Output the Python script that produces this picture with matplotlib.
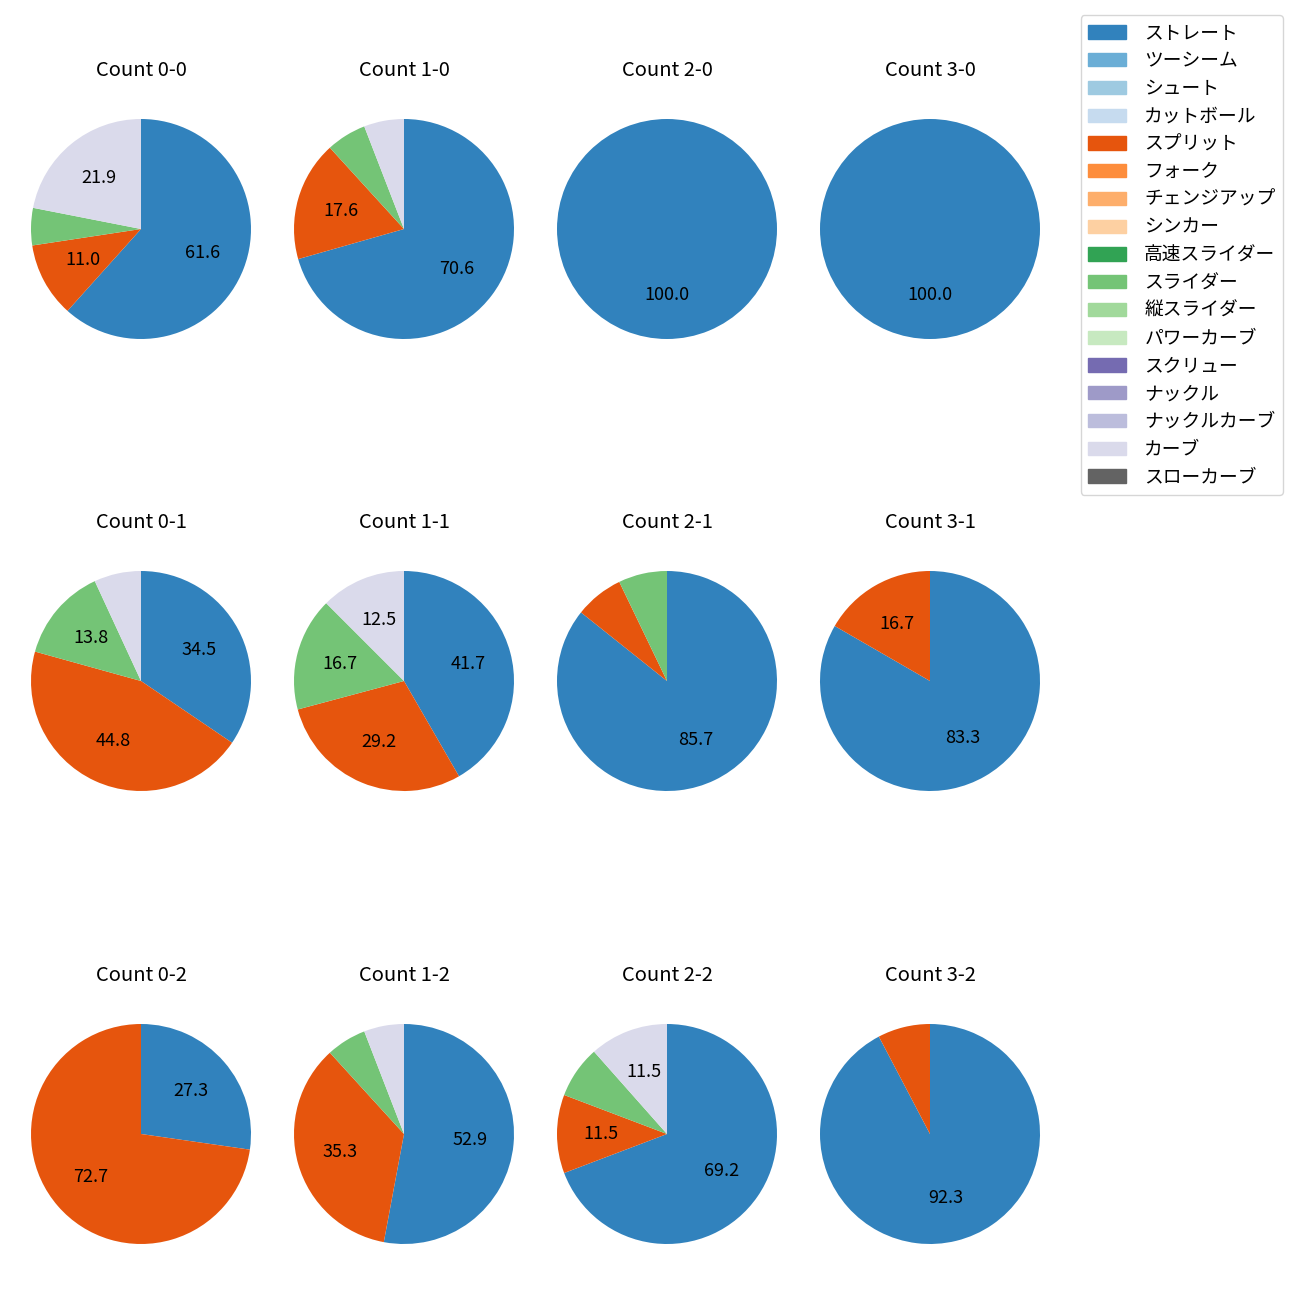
import matplotlib
matplotlib.use("Agg")
import matplotlib.pyplot as plt
import numpy as np

plt.rcParams['font.family'] = ['Noto Sans CJK JP', 'DejaVu Sans']

pitch_types = ["ストレート", "ツーシーム", "シュート", "カットボール", "スプリット", "フォーク",
               "チェンジアップ", "シンカー", "高速スライダー", "スライダー", "縦スライダー",
               "パワーカーブ", "スクリュー", "ナックル", "ナックルカーブ", "カーブ", "スローカーブ"]

# pitch counts per ball-strike count: straight, split, slider, curve
counts = ["0-0", "1-0", "2-0", "3-0", "0-1", "1-1", "2-1", "3-1", "0-2", "1-2", "2-2", "3-2"]
straight = [45, 12, 1, 1, 10, 10, 12, 5, 3, 9, 18, 12]
split = [8, 3, 0, 0, 13, 7, 1, 1, 8, 6, 3, 1]
slider = [4, 1, 0, 0, 4, 4, 1, 0, 0, 1, 2, 0]
curve = [16, 1, 0, 0, 2, 3, 0, 0, 0, 1, 3, 0]

colors = plt.get_cmap("tab20c").colors
colors = list(colors) + [(0.388, 0.388, 0.388)]
idx = {"straight": 0, "split": 4, "slider": 9, "curve": 15}

fig = plt.figure(figsize=(13, 13), dpi=100)
size = 275 / 1300
col_cx = [141, 404, 667, 930]
row_cy = [229, 681, 1134]

for i, c in enumerate(counts):
    r, k = divmod(i, 4)
    ax = fig.add_axes([col_cx[k] / 1300 - size / 2, 1 - row_cy[r] / 1300 - size / 2, size, size])
    vals = [straight[i], split[i], slider[i], curve[i]]
    cols = [colors[idx["straight"]], colors[idx["split"]], colors[idx["slider"]], colors[idx["curve"]]]
    v = [x for x in vals if x > 0]
    cl = [cc for x, cc in zip(vals, cols) if x > 0]
    ax.pie(v, colors=cl, startangle=90, counterclock=False,
           autopct=lambda p: f"{p:.1f}" if p >= 10 else "",
           textprops={"fontsize": 13})
    ax.set_title(f"Count {c}", fontsize=14.5, pad=11)

handles = [matplotlib.patches.Patch(color=colors[j]) for j in range(17)]
fig.legend(handles, pitch_types, loc="upper right", bbox_to_anchor=(1283 / 1300, 1 - 15 / 1300),
           fontsize=13.5, labelspacing=0.36, handletextpad=1.0, borderaxespad=0)

fig.savefig("out.png")
